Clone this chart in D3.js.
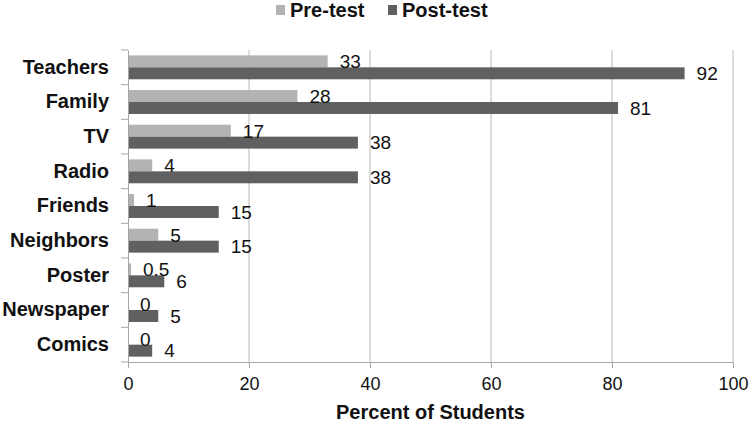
<!DOCTYPE html>
<html>
<head>
<meta charset="utf-8">
<script src="https://cdn.jsdelivr.net/npm/d3@7"></script>
<style>
  body { margin: 0; background: #fff; }
  text { font-family: "Liberation Sans", Arial, sans-serif; }
</style>
</head>
<body>
<div id="main"><svg width="750" height="423"></svg></div>
<script>
// Data
var categories = ["Teachers", "Family", "TV", "Radio", "Friends", "Neighbors", "Poster", "Newspaper", "Comics"];
var seriesNames = ["Pre-test", "Post-test"];
var preTest = [33, 28, 17, 4, 1, 5, 0.5, 0, 0];
var postTest = [92, 81, 38, 38, 15, 15, 6, 5, 4];
var xTicks = [0, 20, 40, 60, 80, 100];

var colors = { "Pre-test": "#b3b3b3", "Post-test": "#606060" };
var axisColor = "#a6a6a6";

var svg = d3.select("#main").select("svg");
var margin = { top: 50, left: 128, right: 17, bottom: 61 };
var width = 750 - margin.left - margin.right;
var height = 423 - margin.top - margin.bottom;
var g = svg.append("g").attr("transform", "translate(" + margin.left + "," + margin.top + ")");

var rows = categories.map(function(c, i) {
    return { cat: c, values: [
        { key: "Pre-test", value: preTest[i] },
        { key: "Post-test", value: postTest[i] }
    ]};
});

// Scales
var xScale = d3.scaleLinear().domain([0, 100]).range([0, width]);
var yScale = d3.scaleBand().domain(categories).range([0, height]).paddingInner(0.31).paddingOuter(0.155);
var subScale = d3.scaleBand().domain(seriesNames).range([0, yScale.bandwidth()]);

// Gridlines
g.append("g").selectAll("line")
    .data(xTicks.slice(1))
    .join("line")
    .attr("x1", function(d) { return xScale(d); })
    .attr("x2", function(d) { return xScale(d); })
    .attr("y1", 0).attr("y2", height)
    .attr("stroke", "#b8b8b8").attr("stroke-width", 1);

// Bars
var groups = g.append("g").selectAll("g")
    .data(rows)
    .join("g")
    .attr("transform", function(d) { return "translate(0," + yScale(d.cat) + ")"; });

groups.selectAll("rect")
    .data(function(d) { return d.values; })
    .join("rect")
    .attr("x", 0)
    .attr("y", function(d) { return subScale(d.key); })
    .attr("width", function(d) { return xScale(d.value); })
    .attr("height", subScale.bandwidth())
    .attr("fill", function(d) { return colors[d.key]; });

groups.selectAll("text.val")
    .data(function(d) { return d.values; })
    .join("text")
    .attr("class", "val")
    .attr("x", function(d) { return xScale(d.value) + 12; })
    .attr("y", function(d) { return subScale(d.key) + subScale.bandwidth() / 2; })
    .attr("dy", "0.36em")
    .attr("font-size", 19)
    .attr("fill", "#111")
    .text(function(d) { return d.value; });

// X axis
var xAxis = d3.axisBottom(xScale).tickValues(xTicks).tickSize(6).tickPadding(9).tickFormat(d3.format("d"));
var xg = g.append("g")
    .attr("transform", "translate(0," + height + ")")
    .call(xAxis);
xg.select(".domain").attr("stroke", axisColor);
xg.selectAll(".tick line").attr("stroke", axisColor);
xg.selectAll(".tick text").attr("font-size", 18).attr("fill", "#111")
    .style("font-family", "'Liberation Sans', Arial, sans-serif");

// Y axis
var yAxis = d3.axisLeft(yScale).tickSize(0).tickPadding(19);
var yg = g.append("g").call(yAxis);
yg.select(".domain").attr("stroke", axisColor);
yg.selectAll(".tick text").attr("font-size", 20).attr("font-weight", "bold").attr("fill", "#111")
    .style("font-family", "'Liberation Sans', Arial, sans-serif");

// Category boundary ticks
var step = yScale.step();
var boundaries = d3.range(categories.length + 1);
var y0 = yScale(categories[0]) - yScale.paddingOuter() * step;
g.append("g").selectAll("line")
    .data(boundaries)
    .join("line")
    .attr("x1", -7).attr("x2", 0)
    .attr("y1", function(i) { return Math.min(height, y0 + i * step); })
    .attr("y2", function(i) { return Math.min(height, y0 + i * step); })
    .attr("stroke", axisColor);

// Axis title
svg.append("text")
    .attr("x", margin.left + width / 2)
    .attr("y", 419)
    .attr("text-anchor", "middle")
    .attr("font-size", 20)
    .attr("font-weight", "bold")
    .attr("fill", "#111")
    .text("Percent of Students");

// Legend
var legend = svg.append("g");
var legendX = [276, 388];
seriesNames.forEach(function(s, i) {
    legend.append("rect")
        .attr("x", legendX[i]).attr("y", 5)
        .attr("width", 9).attr("height", 10)
        .attr("fill", colors[s]);
    legend.append("text")
        .attr("x", legendX[i] + 14).attr("y", 17)
        .attr("font-size", 20)
        .attr("font-weight", "bold")
        .attr("fill", "#111")
        .text(s);
});
</script>
</body>
</html>
